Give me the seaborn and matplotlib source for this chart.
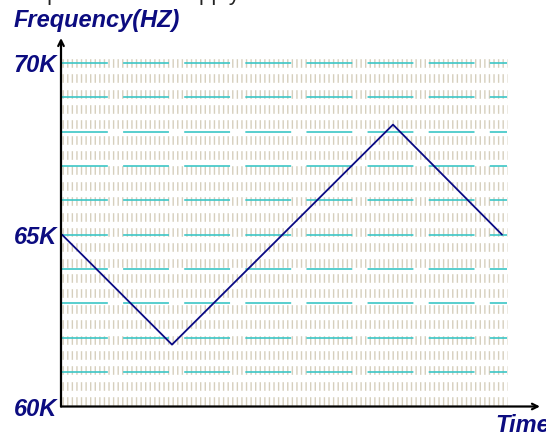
import numpy as np
import matplotlib
matplotlib.use('Agg')
import matplotlib.pyplot as plt
import seaborn as sns
import pandas as pd

# values (time in arbitrary units, frequency in kHz)
time = [0, 110, 331, 440]
freq_khz = [65.0, 61.8, 68.2, 65.0]
ytick_vals = [60, 65, 70]
ytick_labels = ['60K', '65K', '70K']
grid_levels = [61, 62, 63, 64, 65, 66, 67, 68, 69, 70]

df = pd.DataFrame({'time': time, 'freq': freq_khz})

sns.set_style('white')
plt.rcParams['font.family'] = ['Liberation Sans', 'DejaVu Sans']
plt.rcParams['lines.scale_dashes'] = False

W, H = 546, 433
fig = plt.figure(figsize=(W / 100, H / 100), dpi=100)
ax = fig.add_axes([61 / W, (H - 406.5) / H, 479 / W, (406.5 - 38) / H])
ax.set_xlim(-1, 478)
ax.set_ylim(60, 70.72)

navy = '#0c0c80'

# beige textured rows behind the grid
rows = np.linspace(70.0, 60.16, 23)
ax.hlines(rows, 0, 445, colors='#d6cfbd', linewidth=6.2,
          linestyles=[(0, (1.0, 2.3))], zorder=1)

# dashed cyan grid every 1K
ax.hlines(grid_levels, 0, 445, colors='#3cc6c6', linewidth=1.2,
          linestyles=[(0, (33, 11))], zorder=2)

sns.lineplot(data=df, x='time', y='freq', ax=ax, color='#0a0a84',
             linewidth=1.3, sort=False, zorder=3)

for s in ax.spines.values():
    s.set_visible(False)
ax.annotate('', xy=(1, 0), xytext=(0, 0), xycoords='axes fraction',
            arrowprops=dict(arrowstyle='->', lw=1.6, color='black',
                            shrinkA=0, shrinkB=0), zorder=4)
ax.annotate('', xy=(0, 1), xytext=(0, 0), xycoords='axes fraction',
            arrowprops=dict(arrowstyle='->', lw=1.6, color='black',
                            shrinkA=0, shrinkB=0), zorder=4)

ax.set_xticks([])
ax.set_yticks(ytick_vals)
ax.set_yticklabels(ytick_labels, fontsize=17, fontweight='bold',
                   fontstyle='italic', color=navy)
ax.tick_params(axis='y', length=0, pad=3)
ax.set_xlabel('')
ax.set_ylabel('')

fig.text(14 / W, 1 - 20 / H, 'Frequency(HZ)', fontsize=17, fontweight='bold',
         fontstyle='italic', color=navy, va='center', ha='left')
fig.text(495 / W, 1.5 / H, 'Time', fontsize=17, fontweight='bold',
         fontstyle='italic', color=navy, va='baseline', ha='left')
# caption above the chart, cut off by the top edge in the reference
fig.text(10 / W, 1 + 0.5 / H, 'the power of the supply module', fontsize=16,
         color='#222222', va='baseline', ha='left')

fig.savefig('out.png', dpi=100)
